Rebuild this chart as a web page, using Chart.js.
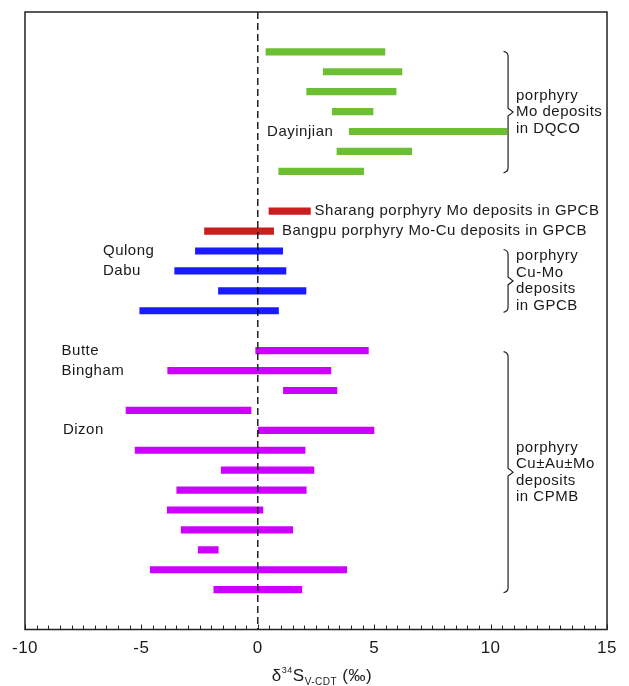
<!DOCTYPE html>
<html>
<head>
<meta charset="utf-8">
<script src="https://cdn.jsdelivr.net/npm/chart.js@4/dist/chart.umd.min.js"></script>
<style>
  html, body { margin: 0; padding: 0; background: #fff; }
  canvas { display: block; }
</style>
</head>
<body>
<canvas id="chart" width="629" height="686"></canvas>
<script>
// δ34S ranges (‰, V-CDT) — one [min, max] pair per deposit
const dqcoMoRanges = [[0.35, 5.46], [2.81, 6.19], [2.10, 5.94], [3.20, 4.95], [3.93, 10.70], [3.40, 6.61], [0.90, 4.55]];
const gpcbMoRanges = [[0.48, 2.26], [-2.29, 0.68]];
const gpcbCuMoRanges = [[-2.68, 1.07], [-3.57, 1.21], [-1.69, 2.07], [-5.07, 0.89]];
const cpmbCuRanges = [[-0.09, 4.75], [-3.87, 3.14], [1.10, 3.40], [-5.66, -0.29], [0.02, 4.99], [-5.27, 2.03],
                      [-1.57, 2.41], [-3.48, 2.08], [-3.89, 0.22], [-3.29, 1.50], [-2.56, -1.70], [-4.62, 3.82], [-1.89, 1.89]];

const groupColors = ['#6cbf32', '#c81e1e', '#1a1aff', '#cc00ff'];
const xTickValues = [-10, -5, 0, 5, 10, 15];

const depositNames = ['Dayinjian', 'Qulong', 'Dabu', 'Butte', 'Bingham', 'Dizon'];
const gpcbMoNames = ['Sharang porphyry Mo deposits in GPCB', 'Bangpu porphyry Mo-Cu deposits in GPCB'];
const groupCaptions = [
  ['porphyry', 'Mo deposits', 'in DQCO'],
  ['porphyry', 'Cu-Mo', 'deposits', 'in GPCB'],
  ['porphyry', 'Cu±Au±Mo', 'deposits', 'in CPMB']
];

const FONT = '"Liberation Sans", Arial, Helvetica, sans-serif';
const INK = '#1a1a1a';

// first row of each group on the vertical (row) axis
const rowStart = [2, 10, 12, 17];
const toPoints = (ranges, first) => ranges.map((r, i) => ({ x: r, y: first + i }));

const datasets = [dqcoMoRanges, gpcbMoRanges, gpcbCuMoRanges, cpmbCuRanges].map((ranges, g) => ({
  data: toPoints(ranges, rowStart[g]),
  backgroundColor: groupColors[g],
  borderWidth: 0,
  borderSkipped: false,
  barThickness: 6.5,
  grouped: false
}));

// name labels: [text, row, x value where text starts]
const nameLabels = [
  [depositNames[0], 6, 0.40],
  [depositNames[1], 12, -6.65],
  [depositNames[2], 13, -6.65],
  [depositNames[3], 17, -8.43],
  [depositNames[4], 18, -8.43],
  [depositNames[5], 21, -8.37],
  [gpcbMoNames[0], 10, 2.44],
  [gpcbMoNames[1], 11, 1.04]
];

// braces: [first row, last row, caption index, extra px above, extra px below]
const braces = [[2, 8, 0, 0.5, 1.5], [12, 15, 1, 1.5, 1.5], [17, 29, 2, -1, 3]];

const overlay = {
  id: 'overlay',
  beforeDraw(chart) {
    chart.ctx.letterSpacing = '0.5px';
  },
  afterDatasetsDraw(chart) {
    const { ctx, chartArea: a, scales: { x, y } } = chart;
    ctx.save();

    // zero reference line
    const x0 = x.getPixelForValue(0);
    ctx.strokeStyle = '#000';
    ctx.lineWidth = 1.3;
    ctx.setLineDash([7, 4]);
    ctx.beginPath();
    ctx.moveTo(x0, a.top);
    ctx.lineTo(x0, a.bottom);
    ctx.stroke();
    ctx.setLineDash([]);

    // minor ticks every 0.5 ‰, pointing inward from the bottom axis
    ctx.strokeStyle = '#222';
    ctx.lineWidth = 1;
    for (let v = -10; v <= 15.001; v += 0.5) {
      const px = Math.round(x.getPixelForValue(v)) + 0.5;
      const len = Math.abs(v % 5) < 1e-6 ? 5 : 4;
      ctx.beginPath();
      ctx.moveTo(px, a.bottom);
      ctx.lineTo(px, a.bottom - len);
      ctx.stroke();
    }

    // frame
    ctx.strokeStyle = '#222';
    ctx.lineWidth = 1.5;
    ctx.strokeRect(a.left, a.top, a.right - a.left, a.bottom - a.top);

    // deposit labels
    ctx.fillStyle = INK;
    ctx.font = '15px ' + FONT;
    ctx.letterSpacing = '0.5px';
    ctx.textAlign = 'left';
    ctx.textBaseline = 'middle';
    nameLabels.forEach(([text, row, v]) => {
      ctx.fillText(text, x.getPixelForValue(v), y.getPixelForValue(row));
    });

    // group braces with captions
    const bx = x.getPixelForValue(10.75);
    const tx = x.getPixelForValue(11.09);
    braces.forEach(([r0, r1, ci, padTop, padBot]) => {
      const top = y.getPixelForValue(r0) - padTop;
      const bot = y.getPixelForValue(r1) + padBot;
      const mid = (top + bot) / 2;
      ctx.strokeStyle = '#222';
      ctx.lineWidth = 1.2;
      ctx.beginPath();
      ctx.moveTo(bx - 4.5, top);
      ctx.quadraticCurveTo(bx, top + 1, bx, top + 5);
      ctx.lineTo(bx, mid - 4);
      ctx.lineTo(bx + 5, mid);
      ctx.lineTo(bx, mid + 4);
      ctx.lineTo(bx, bot - 5);
      ctx.quadraticCurveTo(bx, bot - 1, bx - 4.5, bot);
      ctx.stroke();

      const lines = groupCaptions[ci];
      const lh = 16.5;
      lines.forEach((t, i) => {
        ctx.fillText(t, tx, mid + (i - (lines.length - 1) / 2) * lh);
      });
    });
    ctx.restore();
  },
  afterDraw(chart) {
    const { ctx, chartArea: a } = chart;
    ctx.save();
    ctx.fillStyle = INK;
    ctx.textBaseline = 'alphabetic';
    ctx.textAlign = 'left';
    ctx.letterSpacing = '0.5px';
    // δ34S V-CDT (‰)
    const parts = [
      ['δ', 17, 0],
      ['34', 9, -8],
      ['S', 17, 0],
      ['V-CDT', 10, 4],
      [' (‰)', 17, 0]
    ];
    let total = 0;
    parts.forEach(p => { ctx.font = p[1] + 'px ' + FONT; total += ctx.measureText(p[0]).width; });
    let cx = (a.left + a.right) / 2 + 6 - total / 2;
    const base = 681;
    parts.forEach(p => {
      ctx.font = p[1] + 'px ' + FONT;
      ctx.fillText(p[0], cx, base + p[2]);
      cx += ctx.measureText(p[0]).width;
    });
    ctx.restore();
  }
};

new Chart(document.getElementById('chart'), {
  type: 'bar',
  data: { datasets },
  options: {
    indexAxis: 'y',
    responsive: false,
    animation: false,
    devicePixelRatio: 1,
    grouped: false,
    layout: { padding: { left: 25, right: 22, top: 12, bottom: 0 } },
    plugins: { legend: { display: false }, tooltip: { enabled: false } },
    scales: {
      x: {
        type: 'linear',
        position: 'bottom',
        min: -10,
        max: 15,
        afterBuildTicks: s => { s.ticks = xTickValues.map(v => ({ value: v })); },
        afterFit: s => { s.height = 56.5; },
        ticks: { font: { family: FONT, size: 17 }, color: INK, padding: 9, maxRotation: 0 },
        grid: { display: false, drawTicks: false },
        border: { display: false }
      },
      y: {
        type: 'linear',
        min: 0,
        max: 31,
        reverse: true,
        offset: false,
        display: false
      }
    }
  },
  plugins: [overlay]
});
</script>
</body>
</html>
